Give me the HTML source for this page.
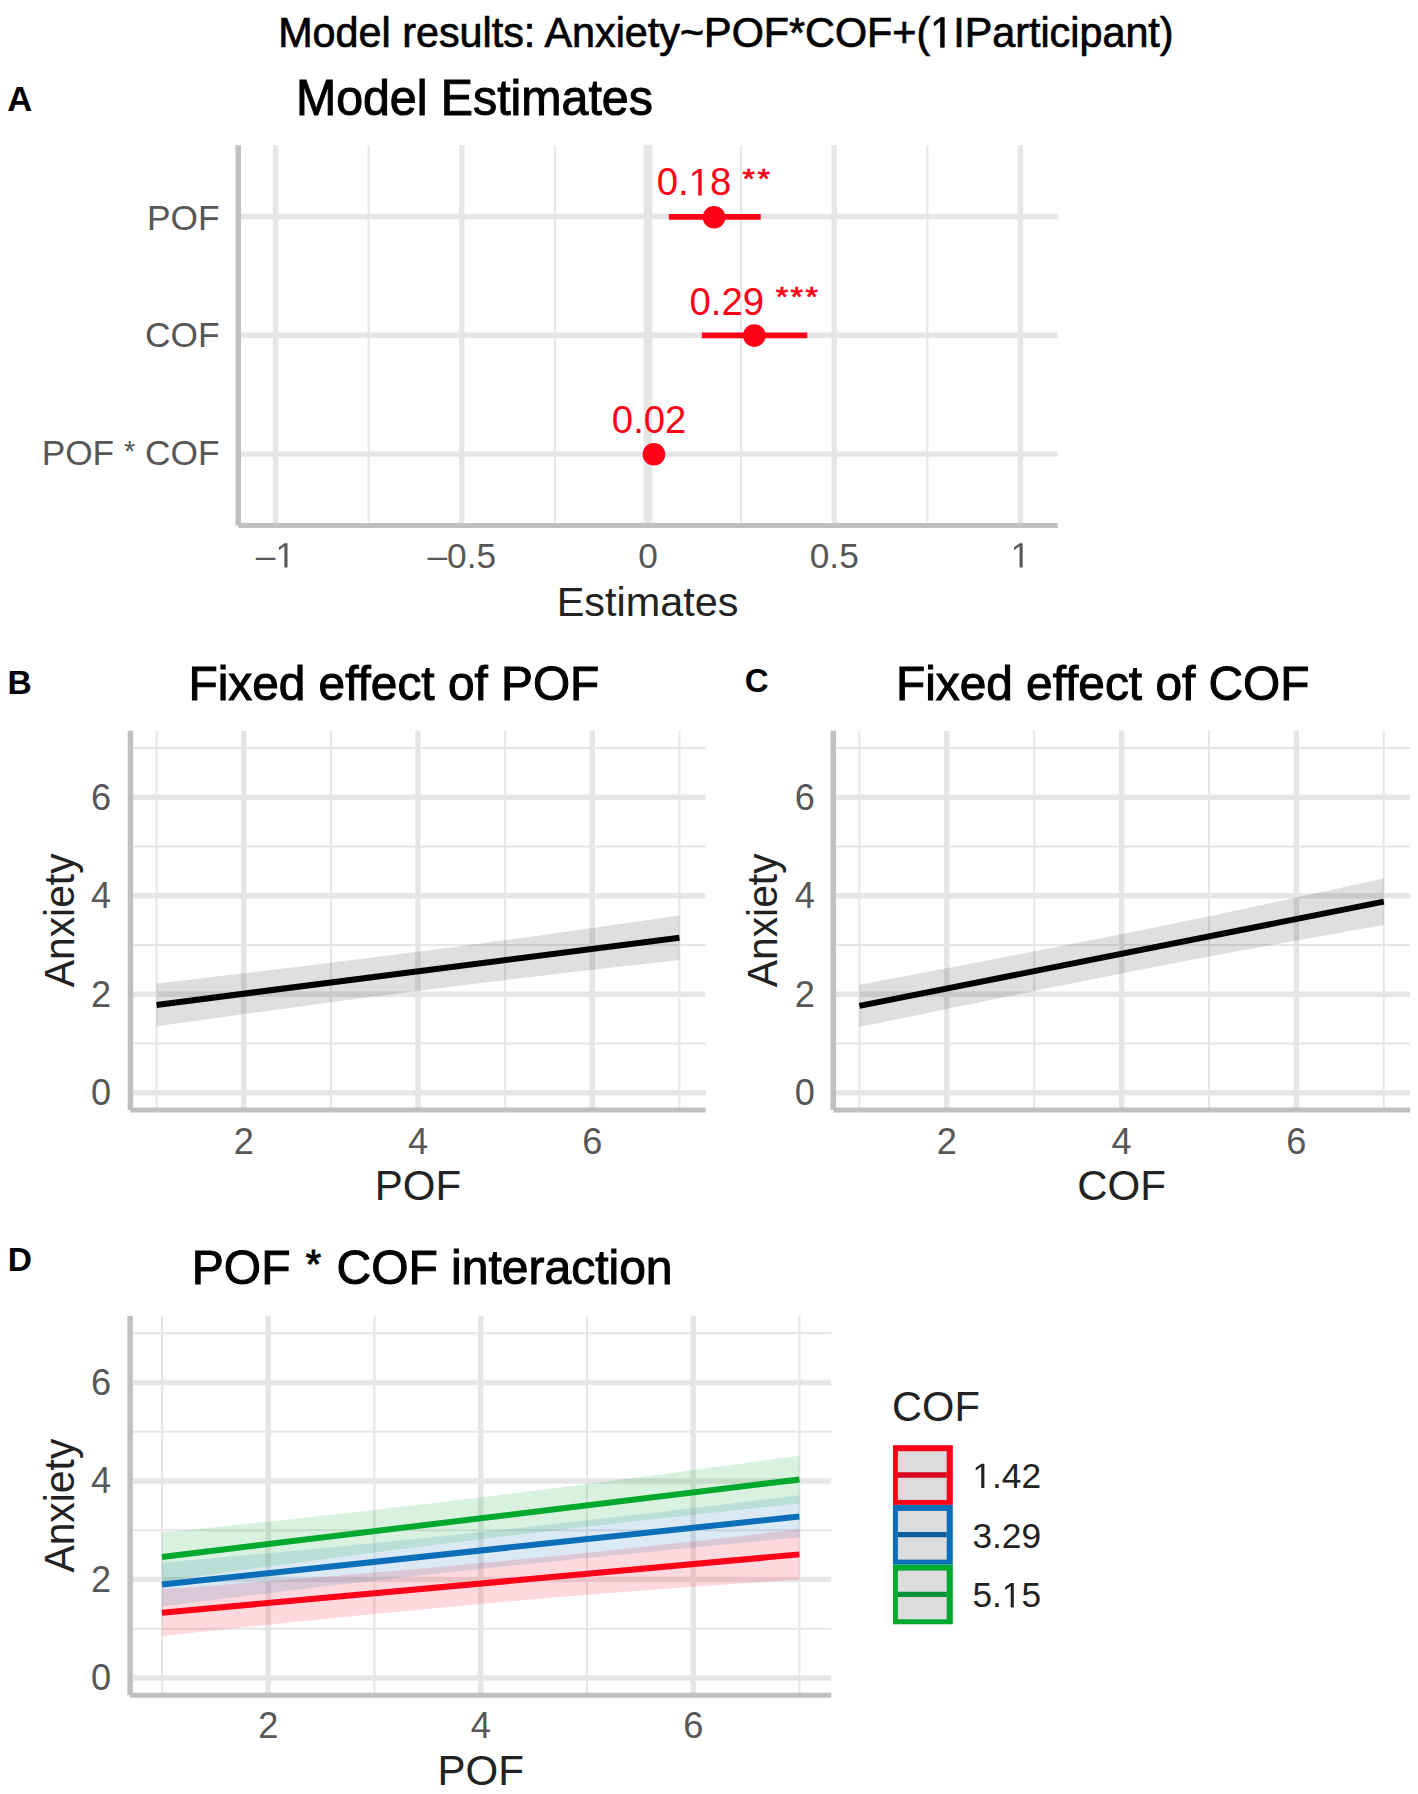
<!DOCTYPE html>
<html><head><meta charset="utf-8"><style>
html,body{margin:0;padding:0;background:#fff;}
svg{display:block;font-family:"Liberation Sans", sans-serif;}
</style></head><body>
<svg width="1418" height="1794" viewBox="0 0 1418 1794">
<rect width="1418" height="1794" fill="#fff"/>
<g transform="translate(278.14 47.30) scale(1 1.05)">
<text x="0.00" y="0.00" font-size="41.33" fill="#000" text-anchor="start" font-weight="normal" stroke="#000" stroke-width="0.7" >Model results: Anxiety~POF*COF+(&#8199;IParticipant)</text>
<path d="M515 0V1237L197 1010V1180L530 1409H696V0Z" fill="#000" stroke="#000" stroke-width="34.7" transform="translate(652.06 0.00) scale(0.02018 -0.02018)"/>
</g>
<line x1="368.62" y1="145.20" x2="368.62" y2="525.40" stroke="#e6e6e6" stroke-width="2.0" stroke-linecap="butt"/>
<line x1="554.88" y1="145.20" x2="554.88" y2="525.40" stroke="#e6e6e6" stroke-width="2.0" stroke-linecap="butt"/>
<line x1="741.12" y1="145.20" x2="741.12" y2="525.40" stroke="#e6e6e6" stroke-width="2.0" stroke-linecap="butt"/>
<line x1="927.38" y1="145.20" x2="927.38" y2="525.40" stroke="#e6e6e6" stroke-width="2.0" stroke-linecap="butt"/>
<line x1="275.50" y1="145.20" x2="275.50" y2="525.40" stroke="#e6e6e6" stroke-width="5.4" stroke-linecap="butt"/>
<line x1="461.75" y1="145.20" x2="461.75" y2="525.40" stroke="#e6e6e6" stroke-width="5.4" stroke-linecap="butt"/>
<line x1="834.25" y1="145.20" x2="834.25" y2="525.40" stroke="#e6e6e6" stroke-width="5.4" stroke-linecap="butt"/>
<line x1="1020.50" y1="145.20" x2="1020.50" y2="525.40" stroke="#e6e6e6" stroke-width="5.4" stroke-linecap="butt"/>
<line x1="648.00" y1="145.20" x2="648.00" y2="525.40" stroke="#e6e6e6" stroke-width="8.6" stroke-linecap="butt"/>
<line x1="238.25" y1="216.50" x2="1057.75" y2="216.50" stroke="#e6e6e6" stroke-width="5.4" stroke-linecap="butt"/>
<line x1="238.25" y1="335.30" x2="1057.75" y2="335.30" stroke="#e6e6e6" stroke-width="5.4" stroke-linecap="butt"/>
<line x1="238.25" y1="454.10" x2="1057.75" y2="454.10" stroke="#e6e6e6" stroke-width="5.4" stroke-linecap="butt"/>
<line x1="238.25" y1="145.20" x2="238.25" y2="525.40" stroke="#c0c0c0" stroke-width="5.5" stroke-linecap="butt"/>
<line x1="238.25" y1="525.40" x2="1057.75" y2="525.40" stroke="#c0c0c0" stroke-width="5.0" stroke-linecap="butt"/>
<line x1="668.80" y1="216.80" x2="760.70" y2="216.80" stroke="#ff0016" stroke-width="5.8" stroke-linecap="butt"/>
<line x1="701.80" y1="335.40" x2="807.30" y2="335.40" stroke="#ff0016" stroke-width="5.8" stroke-linecap="butt"/>
<circle cx="714.05" cy="217.20" r="11.3" fill="#ff0016"/>
<circle cx="754.30" cy="335.60" r="11.3" fill="#ff0016"/>
<circle cx="653.90" cy="454.20" r="11.3" fill="#ff0016"/>
<g>
<text x="656.67" y="195.40" font-size="38.3" fill="#ff0016" text-anchor="start" font-weight="normal" >0.&#8199;8</text>
<path d="M515 0V1237L197 1010V1180L530 1409H696V0Z" fill="#ff0016" transform="translate(688.61 195.40) scale(0.01870 -0.01870)"/>
</g>
<text x="0" y="0" font-size="32.0" fill="#ff0016" stroke="#ff0016" stroke-width="0.8" letter-spacing="2.4" transform="translate(742.56 187.77) scale(1 0.85)">**</text>
<text x="689.47" y="314.50" font-size="38.3" fill="#ff0016" text-anchor="start" font-weight="normal" >0.29</text>
<text x="0" y="0" font-size="32.0" fill="#ff0016" stroke="#ff0016" stroke-width="0.8" letter-spacing="2.4" transform="translate(775.76 306.27) scale(1 0.85)">***</text>
<text x="611.87" y="432.80" font-size="38.3" fill="#ff0016" text-anchor="start" font-weight="normal" >0.02</text>
<text x="219.60" y="229.60" font-size="35.3" fill="#575757" text-anchor="end" font-weight="normal" >POF</text>
<text x="219.60" y="346.90" font-size="35.3" fill="#575757" text-anchor="end" font-weight="normal" >COF</text>
<text x="219.60" y="465.40" font-size="35.3" fill="#575757" text-anchor="end" font-weight="normal" >POF <tspan font-size="28.95" dy="-4.38" dx="0">*</tspan><tspan dy="4.38" dx="0"> COF</tspan></text>
<g>
<text x="275.50" y="567.60" font-size="35.3" fill="#575757" text-anchor="middle" font-weight="normal" >&#8211;&#8199;</text>
<path d="M515 0V1237L197 1010V1180L530 1409H696V0Z" fill="#575757" transform="translate(275.49 567.60) scale(0.01724 -0.01724)"/>
</g>
<text x="461.75" y="567.60" font-size="35.3" fill="#575757" text-anchor="middle" font-weight="normal" >&#8211;0.5</text>
<text x="648.00" y="567.60" font-size="35.3" fill="#575757" text-anchor="middle" font-weight="normal" >0</text>
<text x="834.25" y="567.60" font-size="35.3" fill="#575757" text-anchor="middle" font-weight="normal" >0.5</text>
<g>
<text x="1020.50" y="567.60" font-size="35.3" fill="#575757" text-anchor="middle" font-weight="normal" >&#8199;</text>
<path d="M515 0V1237L197 1010V1180L530 1409H696V0Z" fill="#575757" transform="translate(1010.68 567.60) scale(0.01724 -0.01724)"/>
</g>
<text x="556.69" y="615.80" font-size="41.4" fill="#222222" text-anchor="start" font-weight="normal" >Estimates</text>
<text x="0.00" y="0.00" font-size="48.3" fill="#000" text-anchor="start" font-weight="normal" stroke="#000" stroke-width="1.0" transform="translate(295.94 114.50) scale(1 1.02)">Model Estimates</text>
<text x="7.23" y="111.00" font-size="34.6" fill="#000" text-anchor="start" font-weight="bold" >A</text>
<line x1="156.55" y1="730.67" x2="156.55" y2="1110.04" stroke="#e6e6e6" stroke-width="2.0" stroke-linecap="butt"/>
<line x1="130.40" y1="1043.53" x2="705.60" y2="1043.53" stroke="#e6e6e6" stroke-width="2.0" stroke-linecap="butt"/>
<line x1="330.85" y1="730.67" x2="330.85" y2="1110.04" stroke="#e6e6e6" stroke-width="2.0" stroke-linecap="butt"/>
<line x1="130.40" y1="944.99" x2="705.60" y2="944.99" stroke="#e6e6e6" stroke-width="2.0" stroke-linecap="butt"/>
<line x1="505.15" y1="730.67" x2="505.15" y2="1110.04" stroke="#e6e6e6" stroke-width="2.0" stroke-linecap="butt"/>
<line x1="130.40" y1="846.45" x2="705.60" y2="846.45" stroke="#e6e6e6" stroke-width="2.0" stroke-linecap="butt"/>
<line x1="679.45" y1="730.67" x2="679.45" y2="1110.04" stroke="#e6e6e6" stroke-width="2.0" stroke-linecap="butt"/>
<line x1="130.40" y1="747.91" x2="705.60" y2="747.91" stroke="#e6e6e6" stroke-width="2.0" stroke-linecap="butt"/>
<line x1="243.70" y1="730.67" x2="243.70" y2="1110.04" stroke="#e6e6e6" stroke-width="5.4" stroke-linecap="butt"/>
<line x1="418.00" y1="730.67" x2="418.00" y2="1110.04" stroke="#e6e6e6" stroke-width="5.4" stroke-linecap="butt"/>
<line x1="592.30" y1="730.67" x2="592.30" y2="1110.04" stroke="#e6e6e6" stroke-width="5.4" stroke-linecap="butt"/>
<line x1="130.40" y1="1092.80" x2="705.60" y2="1092.80" stroke="#e6e6e6" stroke-width="5.4" stroke-linecap="butt"/>
<line x1="130.40" y1="994.26" x2="705.60" y2="994.26" stroke="#e6e6e6" stroke-width="5.4" stroke-linecap="butt"/>
<line x1="130.40" y1="895.72" x2="705.60" y2="895.72" stroke="#e6e6e6" stroke-width="5.4" stroke-linecap="butt"/>
<line x1="130.40" y1="797.18" x2="705.60" y2="797.18" stroke="#e6e6e6" stroke-width="5.4" stroke-linecap="butt"/>
<path d="M156.55,983.42 L167.44,982.17 L178.34,980.92 L189.23,979.66 L200.12,978.39 L211.02,977.12 L221.91,975.84 L232.81,974.56 L243.70,973.27 L254.59,971.97 L265.49,970.67 L276.38,969.36 L287.27,968.04 L298.17,966.72 L309.06,965.39 L319.96,964.05 L330.85,962.70 L341.74,961.35 L352.64,959.99 L363.53,958.63 L374.43,957.25 L385.32,955.87 L396.21,954.49 L407.11,953.09 L418.00,951.69 L428.89,950.28 L439.79,948.85 L450.68,947.42 L461.57,945.98 L472.47,944.53 L483.36,943.07 L494.26,941.60 L505.15,940.12 L516.04,938.63 L526.94,937.14 L537.83,935.63 L548.73,934.12 L559.62,932.60 L570.51,931.06 L581.41,929.53 L592.30,927.98 L603.19,926.42 L614.09,924.86 L624.98,923.29 L635.88,921.71 L646.77,920.13 L657.66,918.53 L668.56,916.94 L679.45,915.33 L679.45,960.07 L668.56,961.26 L657.66,962.46 L646.77,963.67 L635.88,964.89 L624.98,966.11 L614.09,967.34 L603.19,968.57 L592.30,969.82 L581.41,971.07 L570.51,972.33 L559.62,973.60 L548.73,974.88 L537.83,976.17 L526.94,977.46 L516.04,978.76 L505.15,980.08 L494.26,981.40 L483.36,982.73 L472.47,984.07 L461.57,985.42 L450.68,986.78 L439.79,988.15 L428.89,989.53 L418.00,990.91 L407.11,992.31 L396.21,993.72 L385.32,995.13 L374.43,996.55 L363.53,997.97 L352.64,999.41 L341.74,1000.85 L330.85,1002.30 L319.96,1003.75 L309.06,1005.22 L298.17,1006.69 L287.27,1008.16 L276.38,1009.65 L265.49,1011.14 L254.59,1012.63 L243.70,1014.14 L232.81,1015.65 L221.91,1017.16 L211.02,1018.68 L200.12,1020.21 L189.23,1021.75 L178.34,1023.29 L167.44,1024.83 L156.55,1026.38 Z" fill="#000" fill-opacity="0.125" stroke="none"/>
<line x1="156.55" y1="1004.90" x2="679.45" y2="937.70" stroke="#000" stroke-width="6.0" stroke-linecap="butt"/>
<line x1="130.40" y1="730.67" x2="130.40" y2="1110.04" stroke="#c0c0c0" stroke-width="5.5" stroke-linecap="butt"/>
<line x1="130.40" y1="1110.04" x2="705.60" y2="1110.04" stroke="#c0c0c0" stroke-width="5.0" stroke-linecap="butt"/>
<text x="111.20" y="1105.20" font-size="36.2" fill="#575757" text-anchor="end" font-weight="normal" >0</text>
<text x="111.20" y="1006.66" font-size="36.2" fill="#575757" text-anchor="end" font-weight="normal" >2</text>
<text x="111.20" y="908.12" font-size="36.2" fill="#575757" text-anchor="end" font-weight="normal" >4</text>
<text x="111.20" y="809.58" font-size="36.2" fill="#575757" text-anchor="end" font-weight="normal" >6</text>
<text x="243.70" y="1153.90" font-size="36.2" fill="#575757" text-anchor="middle" font-weight="normal" >2</text>
<text x="418.00" y="1153.90" font-size="36.2" fill="#575757" text-anchor="middle" font-weight="normal" >4</text>
<text x="592.30" y="1153.90" font-size="36.2" fill="#575757" text-anchor="middle" font-weight="normal" >6</text>
<text x="418.00" y="1200.20" font-size="42.0" fill="#222222" text-anchor="middle" font-weight="normal" >POF</text>
<text x="0" y="0" font-size="42.8" fill="#222222" text-anchor="middle" transform="translate(74.20 920.36) rotate(-90) scale(0.955 1)">Anxiety</text>
<text x="0.00" y="0.00" font-size="47.8" fill="#000" text-anchor="start" font-weight="normal" stroke="#000" stroke-width="1.0" transform="translate(188.48 700.00) scale(1 1.02)">Fixed effect of POF</text>
<text x="7.42" y="693.70" font-size="33.5" fill="#000" text-anchor="start" font-weight="bold" >B</text>
<line x1="859.40" y1="730.67" x2="859.40" y2="1110.04" stroke="#e6e6e6" stroke-width="2.0" stroke-linecap="butt"/>
<line x1="833.18" y1="1043.53" x2="1410.02" y2="1043.53" stroke="#e6e6e6" stroke-width="2.0" stroke-linecap="butt"/>
<line x1="1034.20" y1="730.67" x2="1034.20" y2="1110.04" stroke="#e6e6e6" stroke-width="2.0" stroke-linecap="butt"/>
<line x1="833.18" y1="944.99" x2="1410.02" y2="944.99" stroke="#e6e6e6" stroke-width="2.0" stroke-linecap="butt"/>
<line x1="1209.00" y1="730.67" x2="1209.00" y2="1110.04" stroke="#e6e6e6" stroke-width="2.0" stroke-linecap="butt"/>
<line x1="833.18" y1="846.45" x2="1410.02" y2="846.45" stroke="#e6e6e6" stroke-width="2.0" stroke-linecap="butt"/>
<line x1="1383.80" y1="730.67" x2="1383.80" y2="1110.04" stroke="#e6e6e6" stroke-width="2.0" stroke-linecap="butt"/>
<line x1="833.18" y1="747.91" x2="1410.02" y2="747.91" stroke="#e6e6e6" stroke-width="2.0" stroke-linecap="butt"/>
<line x1="946.80" y1="730.67" x2="946.80" y2="1110.04" stroke="#e6e6e6" stroke-width="5.4" stroke-linecap="butt"/>
<line x1="1121.60" y1="730.67" x2="1121.60" y2="1110.04" stroke="#e6e6e6" stroke-width="5.4" stroke-linecap="butt"/>
<line x1="1296.40" y1="730.67" x2="1296.40" y2="1110.04" stroke="#e6e6e6" stroke-width="5.4" stroke-linecap="butt"/>
<line x1="833.18" y1="1092.80" x2="1410.02" y2="1092.80" stroke="#e6e6e6" stroke-width="5.4" stroke-linecap="butt"/>
<line x1="833.18" y1="994.26" x2="1410.02" y2="994.26" stroke="#e6e6e6" stroke-width="5.4" stroke-linecap="butt"/>
<line x1="833.18" y1="895.72" x2="1410.02" y2="895.72" stroke="#e6e6e6" stroke-width="5.4" stroke-linecap="butt"/>
<line x1="833.18" y1="797.18" x2="1410.02" y2="797.18" stroke="#e6e6e6" stroke-width="5.4" stroke-linecap="butt"/>
<path d="M859.40,984.70 L870.32,982.65 L881.25,980.60 L892.17,978.54 L903.10,976.47 L914.02,974.40 L924.95,972.33 L935.88,970.25 L946.80,968.16 L957.72,966.07 L968.65,963.98 L979.57,961.88 L990.50,959.77 L1001.42,957.66 L1012.35,955.55 L1023.27,953.42 L1034.20,951.30 L1045.12,949.16 L1056.05,947.03 L1066.97,944.88 L1077.90,942.73 L1088.83,940.58 L1099.75,938.41 L1110.67,936.25 L1121.60,934.07 L1132.53,931.88 L1143.45,929.68 L1154.38,927.47 L1165.30,925.24 L1176.22,923.00 L1187.15,920.75 L1198.08,918.48 L1209.00,916.21 L1219.92,913.92 L1230.85,911.61 L1241.78,909.30 L1252.70,906.98 L1263.62,904.64 L1274.55,902.29 L1285.47,899.93 L1296.40,897.57 L1307.33,895.19 L1318.25,892.80 L1329.17,890.40 L1340.10,887.99 L1351.03,885.58 L1361.95,883.15 L1372.88,880.72 L1383.80,878.28 L1383.80,925.08 L1372.88,926.99 L1361.95,928.89 L1351.03,930.81 L1340.10,932.74 L1329.17,934.67 L1318.25,936.62 L1307.33,938.57 L1296.40,940.53 L1285.47,942.51 L1274.55,944.49 L1263.62,946.48 L1252.70,948.49 L1241.78,950.51 L1230.85,952.54 L1219.92,954.58 L1209.00,956.63 L1198.08,958.69 L1187.15,960.77 L1176.22,962.86 L1165.30,964.96 L1154.38,967.07 L1143.45,969.20 L1132.53,971.34 L1121.60,973.50 L1110.67,975.66 L1099.75,977.84 L1088.83,980.02 L1077.90,982.21 L1066.97,984.40 L1056.05,986.60 L1045.12,988.80 L1034.20,991.01 L1023.27,993.22 L1012.35,995.44 L1001.42,997.67 L990.50,999.90 L979.57,1002.13 L968.65,1004.38 L957.72,1006.62 L946.80,1008.88 L935.88,1011.13 L924.95,1013.40 L914.02,1015.66 L903.10,1017.94 L892.17,1020.21 L881.25,1022.50 L870.32,1024.78 L859.40,1027.07 Z" fill="#000" fill-opacity="0.125" stroke="none"/>
<line x1="859.40" y1="1005.89" x2="1383.80" y2="901.68" stroke="#000" stroke-width="6.0" stroke-linecap="butt"/>
<line x1="833.18" y1="730.67" x2="833.18" y2="1110.04" stroke="#c0c0c0" stroke-width="5.5" stroke-linecap="butt"/>
<line x1="833.18" y1="1110.04" x2="1410.02" y2="1110.04" stroke="#c0c0c0" stroke-width="5.0" stroke-linecap="butt"/>
<text x="814.90" y="1105.20" font-size="36.2" fill="#575757" text-anchor="end" font-weight="normal" >0</text>
<text x="814.90" y="1006.66" font-size="36.2" fill="#575757" text-anchor="end" font-weight="normal" >2</text>
<text x="814.90" y="908.12" font-size="36.2" fill="#575757" text-anchor="end" font-weight="normal" >4</text>
<text x="814.90" y="809.58" font-size="36.2" fill="#575757" text-anchor="end" font-weight="normal" >6</text>
<text x="946.80" y="1153.90" font-size="36.2" fill="#575757" text-anchor="middle" font-weight="normal" >2</text>
<text x="1121.60" y="1153.90" font-size="36.2" fill="#575757" text-anchor="middle" font-weight="normal" >4</text>
<text x="1296.40" y="1153.90" font-size="36.2" fill="#575757" text-anchor="middle" font-weight="normal" >6</text>
<text x="1121.60" y="1200.20" font-size="42.0" fill="#222222" text-anchor="middle" font-weight="normal" >COF</text>
<text x="0" y="0" font-size="42.8" fill="#222222" text-anchor="middle" transform="translate(776.60 920.36) rotate(-90) scale(0.955 1)">Anxiety</text>
<text x="0.00" y="0.00" font-size="47.8" fill="#000" text-anchor="start" font-weight="normal" stroke="#000" stroke-width="1.0" transform="translate(895.98 700.00) scale(1 1.02)">Fixed effect of COF</text>
<text x="744.78" y="692.30" font-size="33.0" fill="#000" text-anchor="start" font-weight="bold" >C</text>
<line x1="161.95" y1="1316.01" x2="161.95" y2="1695.24" stroke="#e6e6e6" stroke-width="2.0" stroke-linecap="butt"/>
<line x1="130.07" y1="1628.75" x2="831.33" y2="1628.75" stroke="#e6e6e6" stroke-width="2.0" stroke-linecap="butt"/>
<line x1="374.45" y1="1316.01" x2="374.45" y2="1695.24" stroke="#e6e6e6" stroke-width="2.0" stroke-linecap="butt"/>
<line x1="130.07" y1="1530.25" x2="831.33" y2="1530.25" stroke="#e6e6e6" stroke-width="2.0" stroke-linecap="butt"/>
<line x1="586.95" y1="1316.01" x2="586.95" y2="1695.24" stroke="#e6e6e6" stroke-width="2.0" stroke-linecap="butt"/>
<line x1="130.07" y1="1431.75" x2="831.33" y2="1431.75" stroke="#e6e6e6" stroke-width="2.0" stroke-linecap="butt"/>
<line x1="799.45" y1="1316.01" x2="799.45" y2="1695.24" stroke="#e6e6e6" stroke-width="2.0" stroke-linecap="butt"/>
<line x1="130.07" y1="1333.25" x2="831.33" y2="1333.25" stroke="#e6e6e6" stroke-width="2.0" stroke-linecap="butt"/>
<line x1="268.20" y1="1316.01" x2="268.20" y2="1695.24" stroke="#e6e6e6" stroke-width="5.4" stroke-linecap="butt"/>
<line x1="480.70" y1="1316.01" x2="480.70" y2="1695.24" stroke="#e6e6e6" stroke-width="5.4" stroke-linecap="butt"/>
<line x1="693.20" y1="1316.01" x2="693.20" y2="1695.24" stroke="#e6e6e6" stroke-width="5.4" stroke-linecap="butt"/>
<line x1="130.07" y1="1678.00" x2="831.33" y2="1678.00" stroke="#e6e6e6" stroke-width="5.4" stroke-linecap="butt"/>
<line x1="130.07" y1="1579.50" x2="831.33" y2="1579.50" stroke="#e6e6e6" stroke-width="5.4" stroke-linecap="butt"/>
<line x1="130.07" y1="1481.00" x2="831.33" y2="1481.00" stroke="#e6e6e6" stroke-width="5.4" stroke-linecap="butt"/>
<line x1="130.07" y1="1382.50" x2="831.33" y2="1382.50" stroke="#e6e6e6" stroke-width="5.4" stroke-linecap="butt"/>
<path d="M161.95,1589.35 L175.23,1588.37 L188.51,1587.38 L201.79,1586.38 L215.07,1585.38 L228.36,1584.36 L241.64,1583.34 L254.92,1582.30 L268.20,1581.26 L281.48,1580.21 L294.76,1579.15 L308.04,1578.07 L321.32,1576.99 L334.61,1575.90 L347.89,1574.79 L361.17,1573.68 L374.45,1572.55 L387.73,1571.41 L401.01,1570.26 L414.29,1569.10 L427.57,1567.93 L440.86,1566.74 L454.14,1565.55 L467.42,1564.34 L480.70,1563.12 L493.98,1561.88 L507.26,1560.63 L520.54,1559.35 L533.83,1558.07 L547.11,1556.76 L560.39,1555.44 L573.67,1554.10 L586.95,1552.75 L600.23,1551.38 L613.51,1550.00 L626.79,1548.60 L640.08,1547.19 L653.36,1545.76 L666.64,1544.32 L679.92,1542.87 L693.20,1541.40 L706.48,1539.93 L719.76,1538.43 L733.04,1536.93 L746.33,1535.42 L759.61,1533.90 L772.89,1532.36 L786.17,1530.82 L799.45,1529.27 L799.45,1579.50 L786.17,1580.38 L772.89,1581.27 L759.61,1582.16 L746.33,1583.07 L733.04,1583.99 L719.76,1584.92 L706.48,1585.86 L693.20,1586.82 L679.92,1587.78 L666.64,1588.76 L653.36,1589.75 L640.08,1590.76 L626.79,1591.78 L613.51,1592.81 L600.23,1593.86 L586.95,1594.92 L573.67,1596.00 L560.39,1597.10 L547.11,1598.21 L533.83,1599.33 L520.54,1600.48 L507.26,1601.64 L493.98,1602.81 L480.70,1604.01 L467.42,1605.22 L454.14,1606.44 L440.86,1607.68 L427.57,1608.93 L414.29,1610.18 L401.01,1611.46 L387.73,1612.74 L374.45,1614.03 L361.17,1615.34 L347.89,1616.65 L334.61,1617.98 L321.32,1619.32 L308.04,1620.67 L294.76,1622.03 L281.48,1623.39 L268.20,1624.77 L254.92,1626.16 L241.64,1627.56 L228.36,1628.97 L215.07,1630.38 L201.79,1631.81 L188.51,1633.24 L175.23,1634.69 L161.95,1636.14 Z" fill="#ff0018" fill-opacity="0.15" stroke="none"/>
<path d="M161.95,1562.61 L175.23,1561.46 L188.51,1560.30 L201.79,1559.14 L215.07,1557.96 L228.36,1556.77 L241.64,1555.58 L254.92,1554.37 L268.20,1553.16 L281.48,1551.93 L294.76,1550.69 L308.04,1549.44 L321.32,1548.18 L334.61,1546.91 L347.89,1545.62 L361.17,1544.32 L374.45,1543.01 L387.73,1541.68 L401.01,1540.34 L414.29,1538.99 L427.57,1537.62 L440.86,1536.24 L454.14,1534.85 L467.42,1533.44 L480.70,1532.02 L493.98,1530.59 L507.26,1529.15 L520.54,1527.70 L533.83,1526.24 L547.11,1524.77 L560.39,1523.30 L573.67,1521.81 L586.95,1520.32 L600.23,1518.81 L613.51,1517.30 L626.79,1515.78 L640.08,1514.25 L653.36,1512.71 L666.64,1511.16 L679.92,1509.61 L693.20,1508.05 L706.48,1506.48 L719.76,1504.90 L733.04,1503.31 L746.33,1501.72 L759.61,1500.12 L772.89,1498.51 L786.17,1496.90 L799.45,1495.28 L799.45,1537.64 L786.17,1538.85 L772.89,1540.08 L759.61,1541.31 L746.33,1542.54 L733.04,1543.79 L719.76,1545.04 L706.48,1546.30 L693.20,1547.56 L679.92,1548.84 L666.64,1550.12 L653.36,1551.41 L640.08,1552.70 L626.79,1554.01 L613.51,1555.32 L600.23,1556.65 L586.95,1557.98 L573.67,1559.32 L560.39,1560.67 L547.11,1562.03 L533.83,1563.40 L520.54,1564.77 L507.26,1566.16 L493.98,1567.56 L480.70,1568.96 L467.42,1570.38 L454.14,1571.81 L440.86,1573.25 L427.57,1574.70 L414.29,1576.17 L401.01,1577.66 L387.73,1579.15 L374.45,1580.66 L361.17,1582.19 L347.89,1583.72 L334.61,1585.27 L321.32,1586.83 L308.04,1588.41 L294.76,1589.99 L281.48,1591.59 L268.20,1593.20 L254.92,1594.82 L241.64,1596.45 L228.36,1598.09 L215.07,1599.74 L201.79,1601.40 L188.51,1603.07 L175.23,1604.75 L161.95,1606.44 Z" fill="#0a6eb8" fill-opacity="0.15" stroke="none"/>
<path d="M161.95,1532.61 L175.23,1531.27 L188.51,1529.92 L201.79,1528.56 L215.07,1527.19 L228.36,1525.81 L241.64,1524.42 L254.92,1523.02 L268.20,1521.61 L281.48,1520.18 L294.76,1518.75 L308.04,1517.30 L321.32,1515.84 L334.61,1514.37 L347.89,1512.89 L361.17,1511.39 L374.45,1509.88 L387.73,1508.36 L401.01,1506.82 L414.29,1505.27 L427.57,1503.71 L440.86,1502.13 L454.14,1500.54 L467.42,1498.94 L480.70,1497.32 L493.98,1495.70 L507.26,1494.06 L520.54,1492.41 L533.83,1490.75 L547.11,1489.08 L560.39,1487.41 L573.67,1485.72 L586.95,1484.02 L600.23,1482.31 L613.51,1480.60 L626.79,1478.87 L640.08,1477.13 L653.36,1475.39 L666.64,1473.63 L679.92,1471.87 L693.20,1470.10 L706.48,1468.32 L719.76,1466.53 L733.04,1464.73 L746.33,1462.93 L759.61,1461.12 L772.89,1459.30 L786.17,1457.47 L799.45,1455.64 L799.45,1503.41 L786.17,1504.80 L772.89,1506.20 L759.61,1507.61 L746.33,1509.03 L733.04,1510.45 L719.76,1511.88 L706.48,1513.32 L693.20,1514.77 L679.92,1516.23 L666.64,1517.69 L653.36,1519.17 L640.08,1520.65 L626.79,1522.14 L613.51,1523.64 L600.23,1525.15 L586.95,1526.67 L573.67,1528.20 L560.39,1529.74 L547.11,1531.29 L533.83,1532.85 L520.54,1534.42 L507.26,1536.00 L493.98,1537.59 L480.70,1539.19 L467.42,1540.80 L454.14,1542.43 L440.86,1544.06 L427.57,1545.72 L414.29,1547.38 L401.01,1549.06 L387.73,1550.75 L374.45,1552.46 L361.17,1554.18 L347.89,1555.91 L334.61,1557.65 L321.32,1559.41 L308.04,1561.18 L294.76,1562.96 L281.48,1564.75 L268.20,1566.56 L254.92,1568.37 L241.64,1570.20 L228.36,1572.04 L215.07,1573.88 L201.79,1575.74 L188.51,1577.61 L175.23,1579.49 L161.95,1581.37 Z" fill="#00a82e" fill-opacity="0.15" stroke="none"/>
<line x1="161.95" y1="1612.74" x2="799.45" y2="1554.38" stroke="#ff0018" stroke-width="6.0" stroke-linecap="butt"/>
<line x1="161.95" y1="1584.52" x2="799.45" y2="1516.46" stroke="#0a6eb8" stroke-width="6.0" stroke-linecap="butt"/>
<line x1="161.95" y1="1556.99" x2="799.45" y2="1479.52" stroke="#00a82e" stroke-width="6.0" stroke-linecap="butt"/>
<line x1="130.07" y1="1316.01" x2="130.07" y2="1695.24" stroke="#c0c0c0" stroke-width="5.5" stroke-linecap="butt"/>
<line x1="130.07" y1="1695.24" x2="831.33" y2="1695.24" stroke="#c0c0c0" stroke-width="5.0" stroke-linecap="butt"/>
<text x="111.20" y="1690.40" font-size="36.2" fill="#575757" text-anchor="end" font-weight="normal" >0</text>
<text x="111.20" y="1591.90" font-size="36.2" fill="#575757" text-anchor="end" font-weight="normal" >2</text>
<text x="111.20" y="1493.40" font-size="36.2" fill="#575757" text-anchor="end" font-weight="normal" >4</text>
<text x="111.20" y="1394.90" font-size="36.2" fill="#575757" text-anchor="end" font-weight="normal" >6</text>
<text x="268.20" y="1738.14" font-size="36.2" fill="#575757" text-anchor="middle" font-weight="normal" >2</text>
<text x="480.70" y="1738.14" font-size="36.2" fill="#575757" text-anchor="middle" font-weight="normal" >4</text>
<text x="693.20" y="1738.14" font-size="36.2" fill="#575757" text-anchor="middle" font-weight="normal" >6</text>
<text x="480.70" y="1785.24" font-size="42.0" fill="#222222" text-anchor="middle" font-weight="normal" >POF</text>
<text x="0" y="0" font-size="42.8" fill="#222222" text-anchor="middle" transform="translate(74.20 1505.62) rotate(-90) scale(0.955 1)">Anxiety</text>
<text x="0.00" y="0.00" font-size="48.0" fill="#000" text-anchor="start" font-weight="normal" stroke="#000" stroke-width="1.0" transform="translate(191.86 1284.40) scale(1 1.02)">POF <tspan font-size="39.36" dy="-5.96" dx="2.0">*</tspan><tspan dy="5.96" dx="2.0"> COF interaction</tspan></text>
<text x="7.72" y="1270.60" font-size="33.5" fill="#000" text-anchor="start" font-weight="bold" >D</text>
<text x="892.02" y="1421.20" font-size="41.6" fill="#222222" text-anchor="start" font-weight="normal" >COF</text>
<rect x="892.9" y="1445.20" width="59.9" height="59.7" fill="#ff0018"/>
<rect x="897.9" y="1451.20" width="48.8" height="48.7" fill="#dcdcdc"/>
<line x1="897.90" y1="1475.00" x2="946.70" y2="1475.00" stroke="#d8001c" stroke-width="5.3" stroke-linecap="butt"/>
<rect x="892.9" y="1504.90" width="59.9" height="59.7" fill="#0a6eb8"/>
<rect x="897.9" y="1510.90" width="48.8" height="48.7" fill="#dcdcdc"/>
<line x1="897.90" y1="1534.70" x2="946.70" y2="1534.70" stroke="#0d5f9e" stroke-width="5.3" stroke-linecap="butt"/>
<rect x="892.9" y="1564.60" width="59.9" height="59.7" fill="#00a82e"/>
<rect x="897.9" y="1570.60" width="48.8" height="48.7" fill="#dcdcdc"/>
<line x1="897.90" y1="1594.40" x2="946.70" y2="1594.40" stroke="#07923a" stroke-width="5.3" stroke-linecap="butt"/>
<g>
<text x="972.35" y="1488.00" font-size="35.3" fill="#222222" text-anchor="start" font-weight="normal" >&#8199;.42</text>
<path d="M515 0V1237L197 1010V1180L530 1409H696V0Z" fill="#222222" transform="translate(972.35 1488.00) scale(0.01724 -0.01724)"/>
</g>
<text x="972.39" y="1547.70" font-size="35.3" fill="#222222" text-anchor="start" font-weight="normal" >3.29</text>
<g>
<text x="972.39" y="1607.40" font-size="35.3" fill="#222222" text-anchor="start" font-weight="normal" >5.&#8199;5</text>
<path d="M515 0V1237L197 1010V1180L530 1409H696V0Z" fill="#222222" transform="translate(1001.81 1607.40) scale(0.01724 -0.01724)"/>
</g>
</svg></body></html>
